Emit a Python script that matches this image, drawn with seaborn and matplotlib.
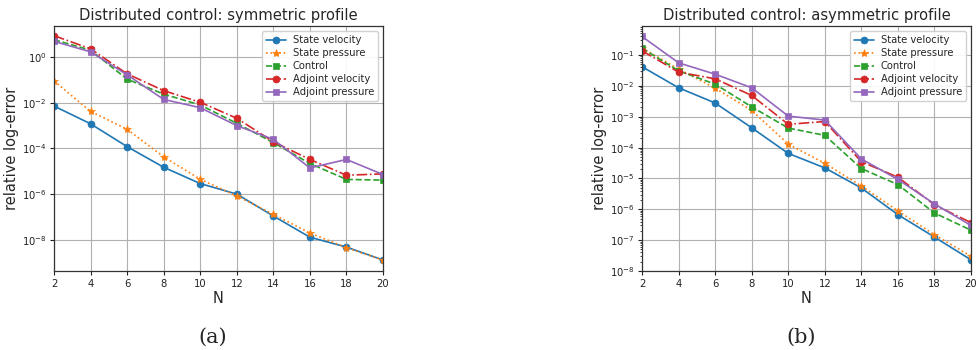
import numpy as np
import pandas as pd
import seaborn as sns
import matplotlib
matplotlib.use("Agg")
import matplotlib.pyplot as plt

N = [2, 4, 6, 8, 10, 12, 14, 16, 18, 20]
series_names = ["State velocity", "State pressure", "Control", "Adjoint velocity", "Adjoint pressure"]

# symmetric profile
sym_state_velocity = [7.2e-3, 1.2e-3, 1.2e-4, 1.5e-5, 2.9e-6, 1.0e-6, 1.1e-7, 1.3e-8, 4.8e-9, 1.3e-9]
sym_state_pressure = [9e-2, 4.2e-3, 6.9e-4, 4.3e-5, 4.5e-6, 8.3e-7, 1.3e-7, 2.0e-8, 4.5e-9, 1.3e-9]
sym_control = [5.8, 2.0, 0.108, 0.024, 8e-3, 1.26e-3, 1.8e-4, 2.2e-5, 4.4e-6, 4.1e-6]
sym_adjoint_velocity = [8.7, 2.3, 0.185, 0.034, 0.0105, 2.1e-3, 1.96e-4, 3.3e-5, 6.7e-6, 7.7e-6]
sym_adjoint_pressure = [4.9, 1.7, 0.168, 0.014, 6.1e-3, 1.0e-3, 2.5e-4, 1.4e-5, 3.3e-5, 7.2e-6]

# asymmetric profile
asym_state_velocity = [0.042, 8.7e-3, 2.8e-3, 4.4e-4, 6.5e-5, 2.2e-5, 4.9e-6, 6.7e-7, 1.26e-7, 2.3e-8]
asym_state_pressure = [0.17, 0.035, 8.5e-3, 1.6e-3, 1.3e-4, 3.1e-5, 5.7e-6, 8.9e-7, 1.5e-7, 3.0e-8]
asym_control = [0.166, 0.031, 0.0114, 2.1e-3, 4.3e-4, 2.5e-4, 2.1e-5, 6.3e-6, 7.6e-7, 2.1e-7]
asym_adjoint_velocity = [0.138, 0.028, 0.017, 4.9e-3, 5.7e-4, 7.0e-4, 3.5e-5, 1.1e-5, 1.4e-6, 3.7e-7]
asym_adjoint_pressure = [0.40, 0.056, 0.024, 8.7e-3, 1.05e-3, 7.8e-4, 4.3e-5, 9.3e-6, 1.5e-6, 3.0e-7]

titles = ["Distributed control: symmetric profile", "Distributed control: asymmetric profile"]
captions = ["(a)", "(b)"]

sns.set_style("ticks")
plt.rcParams["font.family"] = ["DejaVu Sans"]

colors = ["#1f77b4", "#ff7f0e", "#2ca02c", "#d62728", "#9467bd"]
markers = ["o", "*", "s", "o", "s"]
linestyles = ["-", ":", "--", "-.", "-"]

panels = [
    [sym_state_velocity, sym_state_pressure, sym_control, sym_adjoint_velocity, sym_adjoint_pressure],
    [asym_state_velocity, asym_state_pressure, asym_control, asym_adjoint_velocity, asym_adjoint_pressure],
]
ylims = [(4.3e-10, 23), (1e-8, 0.875)]

fig = plt.figure(figsize=(9.79, 3.5), dpi=100)
ax_rects = [[54 / 979, 79 / 350, 329 / 979, 245 / 350],
            [642 / 979, 79 / 350, 329 / 979, 245 / 350]]

for p, (vals, rect) in enumerate(zip(panels, ax_rects)):
    ax = fig.add_axes(rect)
    for i, name in enumerate(series_names):
        df = pd.DataFrame({"N": N, "err": vals[i]})
        sns.lineplot(data=df, x="N", y="err", ax=ax, color=colors[i], marker=markers[i],
                     linestyle=linestyles[i], linewidth=1.2,
                     markersize=5 if markers[i] != "*" else 6,
                     markeredgewidth=0.5, markeredgecolor=colors[i], label=name)
    ax.set_yscale("log")
    ax.set_xlim(2, 20)
    ax.set_ylim(*ylims[p])
    ax.set_xticks(range(2, 21, 2))
    ax.grid(True, which="major", color="#b0b0b0", linewidth=0.8)
    ax.set_axisbelow(True)
    for s in ax.spines.values():
        s.set_color("#333333")
        s.set_linewidth(0.9)
    ax.tick_params(labelsize=7.2, length=3, width=0.8, colors="#222222", pad=2.5)
    ax.tick_params(which="minor", length=1.8, width=0.6)
    ax.set_xlabel("N", fontsize=10.5, labelpad=1.5)
    ax.set_ylabel("relative log-error", fontsize=10.5, labelpad=2)
    ax.set_title(titles[p], fontsize=10.6, pad=4)
    ax.legend(loc="upper right", fontsize=7.2, frameon=True, framealpha=0.9,
              borderpad=0.4, labelspacing=0.3, handlelength=2.0, handletextpad=0.7,
              fancybox=True)
    cx = rect[0] + rect[2] / 2
    fig.text(cx - 0.006, 13 / 350, captions[p], ha="center", va="center",
             fontsize=15, family="DejaVu Serif")

fig.savefig("out.png", dpi=100)
